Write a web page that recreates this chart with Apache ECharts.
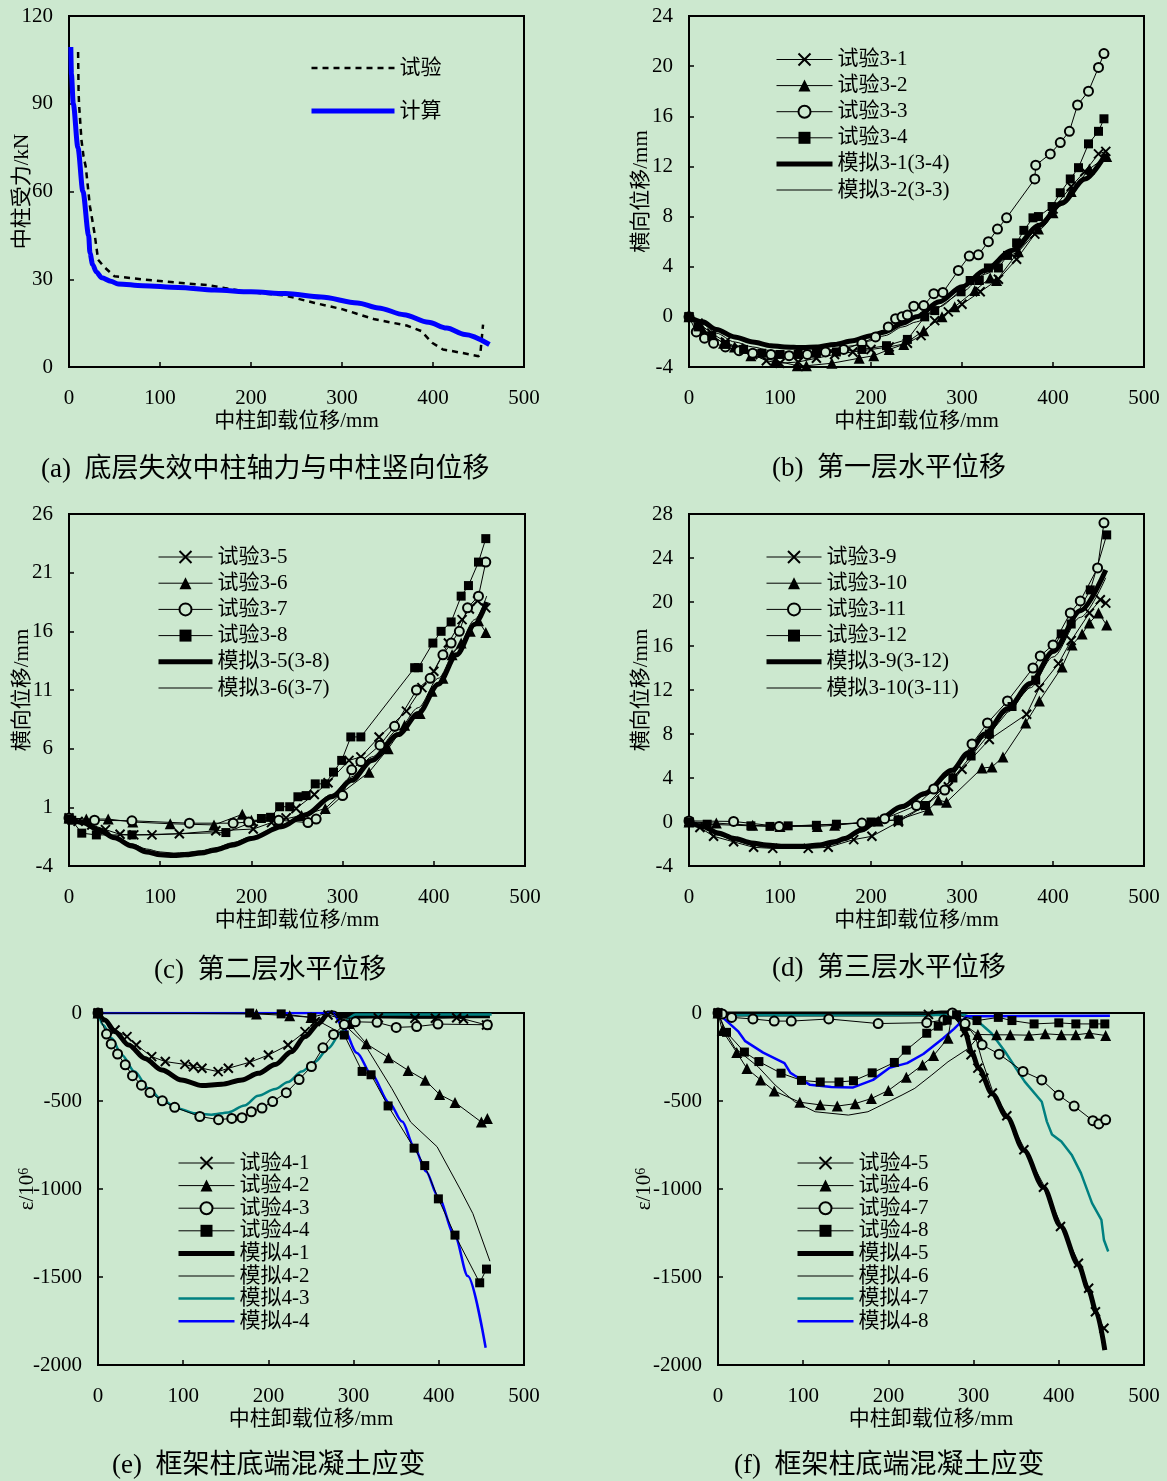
<!DOCTYPE html>
<html>
<head>
<meta charset="utf-8">
<title>框架倒塌试验与模拟对比</title>
<script src="https://cdn.jsdelivr.net/npm/echarts@6/dist/echarts.min.js"></script>
<style>
  html, body { margin: 0; padding: 0; background: #cce8cf; }
  #chart { width: 1167px; height: 1481px; }
</style>
</head>
<body>
<div id="chart"></div>
<script>
// ---------------- data: [中柱卸载位移 mm, value] ----------------
// (a) 中柱受力 kN
const aTest = [[10,107.7],[10.5,95],[11,90],[13.7,77.6],[16,72],[18.4,68.5],[23,55],[28,45.8],[32,36.7],[38,34.4],[50,31],[80,30],[120,28.8],[152,28],[171,27],[199,25.6],[238,24.4],[270,21.9],[301,19.7],[336,16.3],[371,14.2],[387,12.3],[399,8.3],[411,6],[434,4.7],[450,3.7],[452,4.5],[455,14.5]];
const aCalc = [[2,109.4],[2.7,100],[4.7,90],[9.8,75],[15.3,60],[21.6,45],[23,39],[26,35],[30,32.5],[36,30.5],[46,29.3],[54,28.4],[81,27.8],[120,27.2],[160,26.3],[200,25.7],[238,25.1],[277,23.9],[317,21.9],[340,20.2],[368,17.9],[395,15.3],[415,13.3],[435,11.1],[462,7.7]];

// (b) 第一层横向位移 mm
const bTest31 = [[0,0],[10,-0.5],[25,-1.3],[40,-2.0],[55,-2.5],[70,-3.0],[85,-3.5],[100,-3.7],[120,-3.6],[140,-3.3],[160,-3.0],[180,-2.8],[200,-2.6],[220,-2.4],[240,-2.1],[255,-1.5],[270,-0.3],[285,0.4],[300,1.0],[320,2.0],[340,3.0],[360,4.6],[380,6.6],[400,8.6],[420,10.4],[435,11.6],[450,13.0],[458,13.2]];
const bTest32 = [[0,0],[15,-1.0],[38,-2.1],[50,-2.4],[68,-3.1],[95,-3.5],[119,-3.9],[129,-3.9],[157,-3.7],[187,-3.3],[203,-3.1],[220,-2.6],[236,-2.2],[258,-1.1],[278,0.0],[292,0.8],[314,2.1],[331,3.1],[338,2.9],[362,5.2],[384,7.0],[400,8.3],[420,10.0],[440,11.8],[459,12.8]];
const bTest33 = [[0,0],[8,-1.2],[17,-1.7],[27,-2.1],[40,-2.4],[55,-2.7],[70,-2.9],[90,-3.0],[110,-3.1],[130,-3.0],[150,-2.8],[170,-2.6],[190,-2.1],[205,-1.6],[219,-0.8],[227,-0.15],[234,0.0],[240,0.15],[247,0.85],[258,0.9],[269,1.85],[279,1.95],[296,3.7],[308,4.85],[318,4.95],[329,6.0],[339,7.0],[349,7.9],[380,11.0],[381,12.1],[397,13.0],[408,13.9],[418,14.8],[427,16.9],[439,18.0],[450,19.9],[456,21.0]];
const bTest34 = [[0,0],[10,-0.8],[25,-1.5],[40,-2.2],[60,-2.6],[80,-2.9],[100,-3.0],[120,-3.0],[140,-2.9],[162,-2.8],[190,-2.6],[217,-2.3],[240,-1.8],[259,0.0],[270,0.5],[299,2.0],[309,2.9],[319,2.9],[329,3.9],[340,3.9],[350,4.9],[360,5.9],[368,6.9],[378,7.9],[384,8.0],[399,8.8],[408,9.9],[419,11.0],[428,11.9],[439,13.8],[450,14.8],[456,15.8]];
const bSim31 = [[0,0],[15,-0.4],[30,-1.0],[50,-1.6],[70,-2.0],[90,-2.3],[105,-2.4],[125,-2.45],[140,-2.4],[160,-2.2],[180,-1.9],[200,-1.5],[215,-1.2],[235,-0.5],[250,0.0],[275,1.2],[300,2.4],[325,3.7],[355,5.3],[385,7.3],[410,9.1],[435,11.0],[458,13.0]];
const bSim32 = [[0,0],[15,-0.6],[30,-1.3],[50,-2.0],[70,-2.4],[90,-2.7],[105,-2.8],[125,-2.85],[140,-2.8],[160,-2.6],[180,-2.3],[200,-1.9],[215,-1.5],[235,-0.8],[250,-0.4],[275,0.8],[300,2.0],[325,3.4],[355,5.0],[385,7.0],[410,8.9],[435,10.9],[458,12.8]];

// (c) 第二层横向位移 mm
const cTest35 = [[0,0.1],[10,-0.2],[25,-0.5],[40,-0.9],[56,-1.3],[71,-1.35],[91,-1.35],[121,-1.25],[161,-1.0],[202,-0.85],[222,-0.3],[238,0.1],[249,0.9],[269,2.1],[284,3.1],[307,5.0],[320,5.3],[340,7.0],[370,9.2],[387,11.2],[400,12.6],[416,15.0],[431,17.0],[439,17.9],[448,18.6],[457,18.0]];
const cTest36 = [[0,0.1],[19,0.0],[43,0.0],[70,-0.25],[111,-0.4],[159,-0.5],[190,0.4],[200,-0.1],[230,-0.1],[255,0.3],[281,0.9],[300,2.3],[329,4.0],[350,6.0],[368,8.0],[385,9.0],[398,10.9],[410,12.0],[420,14.0],[430,15.0],[440,16.0],[449,16.9],[457,15.9]];
const cTest37 = [[0,0.1],[28,-0.1],[69,-0.15],[132,-0.35],[180,-0.35],[197,-0.25],[230,-0.1],[262,-0.3],[271,0.0],[300,2.0],[310,4.2],[320,4.9],[341,6.3],[357,7.9],[381,11.0],[396,12.0],[410,14.0],[419,15.0],[428,16.0],[437,18.0],[449,19.0],[457,21.9]];
const cTest38 = [[0,0.0],[3,-0.1],[14,-1.2],[30,-1.35],[69,-1.35],[172,-1.15],[211,0.05],[221,0.15],[231,1.05],[242,1.05],[251,1.9],[260,2.0],[270,3.0],[281,3.0],[290,4.0],[299,5.0],[309,7.0],[320,7.0],[379,12.9],[383,12.9],[399,15.0],[408,16.0],[419,16.8],[430,19.0],[438,19.9],[449,21.9],[457,23.9]];
const cSim35 = [[0,0.05],[15,-0.3],[32,-0.9],[50,-1.6],[69,-2.3],[85,-2.8],[100,-3.05],[115,-3.1],[127,-3.05],[145,-2.9],[160,-2.65],[180,-2.2],[200,-1.65],[233,-0.65],[259,0.35],[288,1.9],[310,3.3],[332,5.0],[361,7.2],[383,9.0],[405,11.5],[425,14.0],[445,16.6],[458,18.5]];
const cSim36 = [[0,0.05],[15,-0.25],[32,-0.8],[50,-1.45],[69,-2.1],[85,-2.55],[100,-2.8],[115,-2.9],[127,-2.85],[145,-2.7],[160,-2.45],[180,-2.0],[200,-1.5],[233,-0.5],[259,0.5],[288,2.1],[310,3.6],[332,5.3],[361,7.6],[383,9.5],[405,12.0],[425,14.5],[445,17.0],[458,19.0]];

// (d) 第三层横向位移 mm
const dTest39 = [[0,0],[12,-0.5],[27,-1.3],[49,-1.8],[71,-2.3],[92,-2.4],[131,-2.4],[153,-2.3],[181,-1.6],[201,-1.3],[230,0.0],[260,1.5],[285,3.2],[300,4.8],[330,7.5],[371,9.8],[385,12.2],[406,14.4],[420,16.5],[440,19.0],[452,20.2],[458,19.9]];
const dTest310 = [[0,0],[30,-0.1],[70,-0.3],[100,-0.4],[141,-0.4],[160,-0.3],[208,0.1],[230,0.2],[263,1.1],[274,2.0],[283,1.8],[322,4.9],[333,5.0],[345,5.9],[370,9.0],[385,11.0],[410,14.1],[421,16.1],[432,17.1],[440,18.1],[450,19.0],[459,17.9]];
const dTest311 = [[0,0.1],[49,0.05],[99,-0.4],[190,-0.1],[215,0.3],[250,1.5],[269,3.0],[281,2.9],[311,7.1],[328,9.0],[350,11.0],[378,14.0],[386,15.1],[400,16.1],[419,19.0],[430,20.1],[449,23.1],[456,27.2]];
const dTest312 = [[0,0.0],[20,-0.2],[68,-0.35],[89,-0.4],[109,-0.35],[140,-0.3],[162,-0.2],[200,0.0],[230,0.2],[260,1.5],[290,4.0],[310,6.0],[330,8.0],[355,10.5],[381,12.9],[409,17.1],[420,18.0],[441,21.1],[459,26.1]];
const dSim39 = [[0,0],[15,-0.4],[32,-1.0],[50,-1.5],[69,-1.9],[85,-2.1],[105,-2.2],[125,-2.2],[142,-2.1],[160,-1.8],[171,-1.5],[190,-0.7],[208,0.2],[234,1.4],[259,2.6],[289,4.7],[307,6.3],[325,8.0],[350,10.3],[375,12.6],[400,15.5],[430,19.2],[458,22.9]];
const dSim310 = [[0,0],[15,-0.5],[32,-1.2],[50,-1.7],[69,-2.1],[85,-2.3],[105,-2.4],[125,-2.4],[142,-2.3],[160,-2.0],[171,-1.7],[190,-0.9],[208,0.0],[234,1.2],[259,2.4],[289,4.4],[307,6.0],[325,7.7],[350,10.0],[375,12.2],[400,15.0],[430,18.6],[458,22.2]];

// (e) 框架柱底端混凝土应变 ε/10^6
const eTest41 = [[0,0],[20,-97],[34,-134],[45,-182],[63,-248],[79,-276],[102,-292],[112,-305],[122,-314],[141,-333],[153,-314],[178,-280],[200,-239],[223,-182],[243,-106],[255,-49],[270,-11],[284,-30],[329,-27],[372,-30],[396,-30],[421,-27],[429,-34],[456,-68]];
const eTest42 = [[0,0],[186,-5],[225,-15],[250,-25],[275,5],[295,-60],[315,-175],[341,-254],[364,-326],[384,-382],[401,-463],[419,-508],[450,-620],[457,-600]];
const eTest43 = [[0,0],[10,-120],[15.5,-176],[23,-233],[32,-294],[40.5,-356],[51,-410],[61,-452],[75.5,-499],[90,-536],[119.5,-588],[141.5,-606],[157,-599],[169,-595],[180,-561],[192.5,-540],[205,-503],[221,-453],[236,-378],[250.5,-304],[264,-198],[276.5,-122],[289,-66],[302,-50],[327.5,-53],[350,-82],[374,-77],[399,-63],[457,-67]];
const eTest44 = [[0,0],[178,0],[215,-5],[251,-25],[289,-125],[310,-332],[320.5,-351],[340.5,-528],[371,-768],[383.5,-867],[399.5,-1056],[419,-1262],[448,-1533],[456,-1455]];
const eSim41 = [[0,0],[8,-40],[20,-106],[36,-182],[55,-258],[75,-324],[98,-381],[122,-412],[145,-405],[169,-381],[188,-343],[208,-292],[227,-220],[243,-134],[259,-59],[272,8],[285,-15],[460,-15]];
const eSim42 = [[0,0],[6,20],[50,15],[100,12],[150,10],[200,8],[250,5],[272,10],[287,-57],[312,-170],[345,-430],[367,-620],[398,-760],[425,-1000],[440,-1140],[460,-1410]];
const eSim43 = [[0,0],[6,-68],[16,-144],[28,-239],[43,-333],[59,-428],[75,-494],[94,-542],[114,-570],[133,-578],[153,-565],[172,-525],[188,-470],[208,-432],[223,-392],[239,-333],[255,-277],[270,-201],[286,-106],[294,-30],[302,-8],[462,-8]];
const eSim44 = [[0,0],[270,0],[274,17],[287,-76],[304,-227],[321,-350],[342,-511],[357,-617],[371,-760],[385,-900],[399,-1041],[419,-1268],[434,-1495],[455,-1902]];

// (f) 框架柱底端混凝土应变 ε/10^6
const fTest45 = [[0,0],[247,-8],[272,15],[290,-110],[297,-237],[305,-313],[312,-370],[322,-455],[339,-584],[359,-777],[382,-990],[402,-1213],[423,-1422],[435,-1564],[443,-1697],[453,-1791]];
const fTest46 = [[0,0],[5,-100],[22,-224],[34,-316],[50,-380],[66,-443],[96,-507],[120,-522],[140,-529],[161,-515],[180,-486],[200,-440],[221,-365],[240,-295],[253,-242],[270,-143],[275,10],[290,-70],[305,-122],[327,-124],[343,-124],[365,-126],[384,-118],[403,-124],[420,-124],[436,-115],[455,-128]];
const fTest47 = [[0,0],[5,-5],[16,-25],[41,-34],[66,-46],[86,-46],[130,-34],[188,-60],[245,-55],[265,-40],[275,0],[290,-60],[310,-181],[330,-234],[358,-332],[380,-380],[400,-468],[418,-529],[440,-612],[447,-630],[455,-607]];
const fTest48 = [[0,0],[10,-110],[31,-222],[48,-276],[74,-342],[98,-383],[120,-392],[142,-392],[159,-385],[181,-340],[207,-281],[221,-211],[245,-115],[258.5,-75],[269,-41],[280,-10],[304,-43],[329,-25],[345,-43],[371,-62],[400,-56],[420,-62],[441,-62],[454,-62]];
const fSim45 = [[0,0],[10,-5],[100,-6],[200,-6],[250,-5],[275,10],[283,-40],[290,-110],[298,-225],[306,-315],[322,-460],[339,-590],[359,-780],[382,-990],[402,-1210],[423,-1430],[435,-1575],[444,-1700],[454,-1915]];
const fSim46 = [[0,0],[8,-100],[20,-200],[47,-305],[67,-409],[90,-504],[114,-561],[153,-580],[176,-561],[192,-523],[216,-466],[231,-428],[251,-352],[270,-277],[294,-201],[303,-150],[310,-270],[322,-440],[339,-575],[359,-765],[382,-975],[402,-1195],[423,-1415],[435,-1560],[444,-1690],[454,-1895]];
const fSim47 = [[0,0],[5,-12],[290,-12],[300,-30],[310,-68],[321,-115],[337,-220],[360,-390],[380,-504],[386,-617],[392,-690],[403,-730],[415,-805],[426,-910],[439,-1080],[450,-1175],[453,-1290],[458,-1355]];
const fSim48 = [[0,0],[10,-45],[24,-106],[32,-160],[53,-225],[78,-285],[85,-340],[90,-355],[108,-408],[133,-420],[158,-424],[182,-380],[201,-312],[222,-285],[241,-233],[264,-145],[277,-90],[292,-18],[460,-15]];

// axis scales
const xRange = { min: 0, max: 500, interval: 100 };
const yA = { min: 0, max: 120, interval: 30 };
const yB = { min: -4, max: 24, interval: 4 };
const yC = { min: -4, max: 26, interval: 5 };
const yD = { min: -4, max: 28, interval: 4 };
const yEF = { min: -2000, max: 0, interval: 500 };

// ---------------- styling ----------------
const BG = '#cce8cf';
const FONT = "'Liberation Serif', 'Times New Roman', 'Noto Sans CJK SC', serif";
const BLACK = '#000';
const TEAL = '#008080';
const BLUE = '#0000ff';

const MARKS = {
  cross:    { symbol: 'path://M0,0L10,10M10,0L0,10', size: 9,  style: { color: 'rgba(0,0,0,0)', borderColor: BLACK, borderWidth: 2 } },
  triangle: { symbol: 'triangle', size: 11, style: { color: BLACK, borderColor: BLACK, borderWidth: 0 } },
  circle:   { symbol: 'circle',   size: 9,  style: { color: BG, borderColor: BLACK, borderWidth: 2 } },
  square:   { symbol: 'rect',     size: 9,  style: { color: BLACK, borderColor: BLACK, borderWidth: 0 } }
};

const THICK = { color: BLACK, width: 5 };
const THIN = { color: BLACK, width: 1 };

const XNAME = '中柱卸载位移/mm';
const panels = [
  {
    caption: '(a)  底层失效中柱轴力与中柱竖向位移', cap: [41, 455],
    grid: { left: 69, top: 16, width: 455, height: 351 },
    y: yA, yName: '中柱受力/kN', yGap: 36,
    legend: { left: 309, top: 57.5, itemWidth: 83, itemGap: 22, itemHeight: 13 },
    series: [
      { name: '试验', data: aTest, line: { color: BLACK, width: 2.5, type: [6, 5] } },
      { name: '计算', data: aCalc, line: { color: BLUE, width: 5 }, smooth: true }
    ]
  },
  {
    caption: '(b)  第一层水平位移', cap: [772, 454],
    grid: { left: 689, top: 16, width: 455, height: 351 },
    y: yB, yName: '横向位移/mm', yGap: 37,
    legend: { left: 774, top: 49, itemWidth: 56, itemGap: 5.1 },
    series: [
      { name: '试验3-1', data: bTest31, mark: 'cross' },
      { name: '试验3-2', data: bTest32, mark: 'triangle' },
      { name: '试验3-3', data: bTest33, mark: 'circle' },
      { name: '试验3-4', data: bTest34, mark: 'square' },
      { name: '模拟3-1(3-4)', data: bSim31, line: THICK, smooth: true },
      { name: '模拟3-2(3-3)', data: bSim32, line: THIN, smooth: true }
    ]
  },
  {
    caption: '(c)  第二层水平位移', cap: [154, 956],
    grid: { left: 69, top: 514, width: 456, height: 352 },
    y: yC, yName: '横向位移/mm', yGap: 36,
    legend: { left: 156, top: 546.5, itemWidth: 54, itemGap: 5.2 },
    series: [
      { name: '试验3-5', data: cTest35, mark: 'cross' },
      { name: '试验3-6', data: cTest36, mark: 'triangle' },
      { name: '试验3-7', data: cTest37, mark: 'circle' },
      { name: '试验3-8', data: cTest38, mark: 'square' },
      { name: '模拟3-5(3-8)', data: cSim35, line: THICK, smooth: true },
      { name: '模拟3-6(3-7)', data: cSim36, line: THIN, smooth: true }
    ]
  },
  {
    caption: '(d)  第三层水平位移', cap: [772, 954],
    grid: { left: 689, top: 514, width: 455, height: 352 },
    y: yD, yName: '横向位移/mm', yGap: 37,
    legend: { left: 764, top: 546.5, itemWidth: 55, itemGap: 5.2 },
    series: [
      { name: '试验3-9', data: dTest39, mark: 'cross' },
      { name: '试验3-10', data: dTest310, mark: 'triangle' },
      { name: '试验3-11', data: dTest311, mark: 'circle' },
      { name: '试验3-12', data: dTest312, mark: 'square' },
      { name: '模拟3-9(3-12)', data: dSim39, line: THICK, smooth: true },
      { name: '模拟3-10(3-11)', data: dSim310, line: THIN, smooth: true }
    ]
  },
  {
    caption: '(e)  框架柱底端混凝土应变', cap: [112, 1451],
    grid: { left: 98, top: 1013, width: 426, height: 352 },
    y: yEF, yName: 'ε/10{s|6}', yGap: 60,
    legend: { left: 176, top: 1152.5, itemWidth: 56, itemGap: 1.6 },
    series: [
      { name: '试验4-1', data: eTest41, mark: 'cross' },
      { name: '试验4-2', data: eTest42, mark: 'triangle' },
      { name: '试验4-3', data: eTest43, mark: 'circle' },
      { name: '试验4-4', data: eTest44, mark: 'square' },
      { name: '模拟4-1', data: eSim41, line: THICK, smooth: true },
      { name: '模拟4-2', data: eSim42, line: THIN },
      { name: '模拟4-3', data: eSim43, line: { color: TEAL, width: 2.5 }, smooth: true },
      { name: '模拟4-4', data: eSim44, line: { color: BLUE, width: 2.5 }, smooth: true }
    ]
  },
  {
    caption: '(f)  框架柱底端混凝土应变', cap: [734, 1451],
    grid: { left: 718, top: 1013, width: 426, height: 352 },
    y: yEF, yName: 'ε/10{s|6}', yGap: 63,
    legend: { left: 795, top: 1152.5, itemWidth: 56, itemGap: 1.6 },
    series: [
      { name: '试验4-5', data: fTest45, mark: 'cross' },
      { name: '试验4-6', data: fTest46, mark: 'triangle' },
      { name: '试验4-7', data: fTest47, mark: 'circle' },
      { name: '试验4-8', data: fTest48, mark: 'square' },
      { name: '模拟4-5', data: fSim45, line: THICK, smooth: true },
      { name: '模拟4-6', data: fSim46, line: THIN },
      { name: '模拟4-7', data: fSim47, line: { color: TEAL, width: 2.5 } },
      { name: '模拟4-8', data: fSim48, line: { color: BLUE, width: 2.5 } }
    ]
  }
];

// ---------------- option assembly ----------------
const textBase = { color: BLACK, fontFamily: FONT, fontSize: 21, fontWeight: 'normal' };
const plainNumber = v => String(v);

function makeSeries(s, gi) {
  const base = {
    name: s.name, type: 'line', xAxisIndex: gi, yAxisIndex: gi,
    data: s.data, animation: false, clip: true,
    emphasis: { disabled: true }
  };
  if (s.mark) {
    const m = MARKS[s.mark];
    return Object.assign(base, {
      symbol: m.symbol, symbolSize: m.size, showSymbol: true, showAllSymbol: true,
      itemStyle: m.style, lineStyle: { color: BLACK, width: 1 }, z: 3
    });
  }
  return Object.assign(base, {
    symbol: 'none', showSymbol: false,
    smooth: s.smooth ? 0.3 : false, smoothMonotone: 'x',
    itemStyle: { color: s.line.color },
    lineStyle: { color: s.line.color, width: s.line.width, type: s.line.type || 'solid' },
    z: 2
  });
}

function legendItem(s) {
  if (s.mark) {
    const m = MARKS[s.mark];
    return { name: s.name, itemStyle: Object.assign({ opacity: 1 }, m.style),
             lineStyle: { color: BLACK, width: 1, type: 'solid', opacity: 1 } };
  }
  return { name: s.name, itemStyle: { opacity: 0 },
           lineStyle: { color: s.line.color, width: s.line.width, type: s.line.type || 'solid', opacity: 1 } };
}

const option = {
  backgroundColor: BG,
  animation: false,
  grid: [], xAxis: [], yAxis: [], legend: [], series: [], title: []
};

panels.forEach((p, i) => {
  option.grid.push(Object.assign({
    show: true, borderColor: BLACK, borderWidth: 2, backgroundColor: 'transparent',
    containLabel: false, outerBoundsMode: 'none'
  }, p.grid));

  option.xAxis.push({
    gridIndex: i, type: 'value', min: xRange.min, max: xRange.max, interval: xRange.interval,
    name: XNAME, nameLocation: 'middle', nameGap: 44, nameMoveOverlap: false, nameTextStyle: textBase,
    axisLine: { show: true, onZero: false, lineStyle: { color: BLACK, width: 2 } },
    axisTick: { show: true, inside: true, length: 5, lineStyle: { color: BLACK, width: 1.5 } },
    axisLabel: Object.assign({ margin: 21, showMinLabel: true, showMaxLabel: true, formatter: plainNumber }, textBase),
    splitLine: { show: false }
  });

  option.yAxis.push({
    gridIndex: i, type: 'value', min: p.y.min, max: p.y.max, interval: p.y.interval,
    name: p.yName, nameLocation: 'middle', nameGap: p.yGap, nameRotate: 90, nameMoveOverlap: false,
    nameTextStyle: Object.assign({ rich: { s: { fontSize: 14, verticalAlign: 'top', color: BLACK, fontFamily: FONT } } }, textBase),
    axisLine: { show: true, onZero: false, lineStyle: { color: BLACK, width: 2 } },
    axisTick: { show: true, inside: true, length: 5, lineStyle: { color: BLACK, width: 1.5 } },
    axisLabel: Object.assign({ margin: 16, showMinLabel: true, showMaxLabel: true, formatter: plainNumber }, textBase),
    splitLine: { show: false }
  });

  option.legend.push({
    orient: 'vertical', left: p.legend.left, top: p.legend.top,
    itemWidth: p.legend.itemWidth, itemHeight: p.legend.itemHeight || 15, itemGap: p.legend.itemGap,
    padding: 0, selectedMode: false,
    textStyle: Object.assign({ lineHeight: 21 }, textBase),
    data: p.series.map(legendItem)
  });

  p.series.forEach(s => option.series.push(makeSeries(s, i)));

  option.title.push({
    text: p.caption, left: p.cap[0], top: p.cap[1], padding: 0,
    textStyle: { color: BLACK, fontFamily: FONT, fontSize: 27, fontWeight: 'normal', lineHeight: 30 }
  });
});

const chart = echarts.init(document.getElementById('chart'), null, { renderer: 'canvas' });
chart.setOption(option);
</script>
</body>
</html>
